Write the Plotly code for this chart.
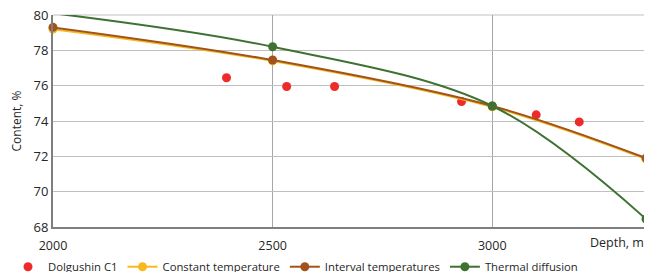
import plotly.graph_objects as go

depth_model = [2000, 2500, 3000, 3350]
constant_temp = [79.2, 77.4, 74.8, 71.85]
interval_temp = [79.3, 77.45, 74.85, 71.9]
thermal_diff = [80.1, 78.2, 74.85, 68.45]

dolg_depth = [2395, 2532, 2641, 2930, 3100, 3198]
dolg_content = [76.45, 75.95, 75.95, 75.1, 74.35, 73.95]

FONT = "'Open Sans', sans-serif"

fig = go.Figure()
fig.add_trace(go.Scatter(x=dolg_depth, y=dolg_content, mode="markers", name="Dolgushin C1",
                         marker=dict(color="#EE2B2B", size=9), cliponaxis=False))
fig.add_trace(go.Scatter(x=depth_model, y=constant_temp, mode="lines+markers", name="Constant temperature",
                         line=dict(color="#F6B91E", width=2, shape="spline"),
                         marker=dict(color="#F6B91E", size=9), cliponaxis=False))
fig.add_trace(go.Scatter(x=depth_model, y=interval_temp, mode="lines+markers", name="Interval temperatures",
                         line=dict(color="#A0531C", width=2, shape="spline"),
                         marker=dict(color="#A0531C", size=9), cliponaxis=False))
fig.add_trace(go.Scatter(x=depth_model, y=thermal_diff, mode="lines+markers", name="Thermal diffusion",
                         line=dict(color="#3F7232", width=2, shape="spline"),
                         marker=dict(color="#3F7232", size=9), cliponaxis=False))

fig.update_layout(
    width=644, height=264,
    margin=dict(l=45, r=6, t=7, b=45, autoexpand=False),
    plot_bgcolor="white", paper_bgcolor="white",
    font=dict(family=FONT, size=12, color="#262626"),
    showlegend=True,
    legend=dict(orientation="h", xref="container", yref="container",
                x=0.0, y=0.02, yanchor="middle", xanchor="left",
                font=dict(size=11.3), itemwidth=30, traceorder="normal",
                tracegroupgap=0),
    xaxis=dict(range=[2000, 3350], tickvals=[2000, 2500, 3000, 3350],
               ticktext=["2000", "2500", "3000", ""],
               showgrid=True, gridcolor="#A6A6A6", gridwidth=1,
               showline=True, linecolor="#7F7F7F", linewidth=2,
               zeroline=False, ticks="", tickfont=dict(size=12.5),
               ticklabelstandoff=6, automargin=False, ticklabeloverflow="allow"),
    yaxis=dict(range=[68, 80], tickvals=[68, 70, 72, 74, 76, 78, 80],
               showgrid=True, gridcolor="#BFBFBF", gridwidth=1,
               showline=True, linecolor="#7F7F7F", linewidth=2, zeroline=False,
               ticks="", tickfont=dict(size=13), automargin=False,
               ticklabeloverflow="allow",
               title=dict(text="Content, %", font=dict(size=12), standoff=14)),
    shapes=[dict(type="line", xref="paper", yref="paper", x0=0, x1=1, y0=1, y1=1,
                 line=dict(color="#BFBFBF", width=1), layer="below")],
    annotations=[dict(text="Depth, m", x=1, xref="paper", xanchor="right",
                      y=0, yref="paper", yanchor="top", yshift=-5,
                      showarrow=False, font=dict(size=12.5))],
)
fig.write_html("out.html")
